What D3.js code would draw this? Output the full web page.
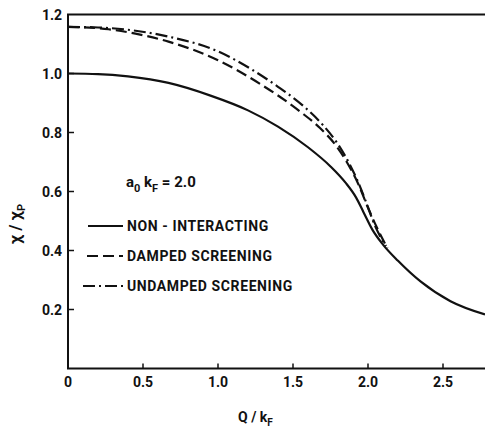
<!DOCTYPE html>
<html>
<head>
<meta charset="utf-8">
<script src="https://cdn.jsdelivr.net/npm/d3@7"></script>
<style>
  body { margin: 0; background: #fff; }
  text { font-family: Roboto, "DejaVu Sans", sans-serif; font-weight: 700; fill: #111; }
</style>
</head>
<body>
<svg width="485" height="427"></svg>
<script>
var svg = d3.select('svg');

// data (Q/kF, chi/chiP)
var nonQ = [0, 0.2, 0.4, 0.67, 0.95, 1.2, 1.4, 1.6, 1.75, 1.85, 1.92, 1.97, 2.03, 2.1, 2.2, 2.35, 2.55, 2.78];
var nonV = [1.0, 0.998, 0.99, 0.968, 0.925, 0.875, 0.82, 0.75, 0.685, 0.63, 0.58, 0.53, 0.47, 0.42, 0.365, 0.295, 0.228, 0.183];

var dampQ = [0, 0.27, 0.45, 0.67, 1.0, 1.28, 1.55, 1.68, 1.78, 1.87, 1.94, 2.0, 2.06, 2.13];
var dampV = [1.158, 1.15, 1.135, 1.108, 1.045, 0.965, 0.87, 0.815, 0.76, 0.69, 0.62, 0.545, 0.477, 0.408];

var undQ = [0, 0.2, 0.45, 0.67, 1.0, 1.23, 1.4, 1.58, 1.7, 1.8, 1.88, 1.94, 1.99, 2.05, 2.12];
var undV = [1.158, 1.156, 1.145, 1.125, 1.075, 1.012, 0.955, 0.885, 0.825, 0.76, 0.69, 0.625, 0.56, 0.48, 0.415];

var xTicks = [0.5, 1.0, 1.5, 2.0, 2.5];
var xLabels = ['0', '0.5', '1.0', '1.5', '2.0', '2.5'];
var yTicks = [0.2, 0.4, 0.6, 0.8, 1.0];
var yLabels = ['0.2', '0.4', '0.6', '0.8', '1.0', '1.2'];

var legendNames = ['NON - INTERACTING', 'DAMPED SCREENING', 'UNDAMPED SCREENING'];
var legendDash = [null, '11,5', '12,4,2,4'];

var x = d3.scaleLinear().domain([0, 2.78]).range([68, 485]);
var y = d3.scaleLinear().domain([0, 1.2]).range([368.5, 14.5]);

// frame
svg.append('path')
  .attr('d', 'M485,' + y(1.2) + 'H' + x(0) + 'V' + y(0) + 'H485')
  .attr('fill', 'none').attr('stroke', '#111').attr('stroke-width', 2);

// ticks, pointing inward
svg.selectAll('line.xt').data(xTicks).enter().append('line')
  .attr('x1', x).attr('x2', x)
  .attr('y1', y(0)).attr('y2', y(0) - 5)
  .attr('stroke', '#111').attr('stroke-width', 1.5);
svg.selectAll('line.yt').data(yTicks).enter().append('line')
  .attr('x1', x(0)).attr('x2', x(0) + 6)
  .attr('y1', y).attr('y2', y)
  .attr('stroke', '#111').attr('stroke-width', 1.5);

svg.selectAll('text.xl').data(xLabels).enter().append('text')
  .attr('x', function(d) { return x(+d) })
  .attr('y', 387)
  .attr('text-anchor', 'middle')
  .attr('font-size', 14)
  .text(function(d) { return d });
svg.selectAll('text.yl').data(yLabels).enter().append('text')
  .attr('x', 62)
  .attr('y', function(d) { return y(+d) + 5 })
  .attr('text-anchor', 'end')
  .attr('font-size', 14)
  .text(function(d) { return d });

// axis titles
var xt = svg.append('text').attr('x', 238).attr('y', 422).attr('font-size', 14).attr('font-weight', 500);
xt.append('tspan').text('Q / k');
xt.append('tspan').attr('dy', 4).attr('font-size', 10).text('F');

var yt = svg.append('text').attr('transform', 'translate(21,244) rotate(-90)').attr('font-size', 17);
yt.append('tspan').text('χ / χ');
yt.append('tspan').attr('dy', 4).attr('font-size', 11).text('P');

// curves
var line = d3.line().x(function(d) { return x(d[0]) }).y(function(d) { return y(d[1]) })
  .curve(d3.curveMonotoneX);
var series = [d3.zip(nonQ, nonV), d3.zip(dampQ, dampV), d3.zip(undQ, undV)];
svg.selectAll('path.curve').data(series).enter().append('path')
  .attr('d', line)
  .attr('fill', 'none')
  .attr('stroke', '#111')
  .attr('stroke-width', 2.2)
  .attr('stroke-dasharray', function(d, i) { return legendDash[i] });

// legend
var lt = svg.append('text').attr('x', 126).attr('y', 187).attr('font-size', 15).attr('font-weight', 500);
lt.append('tspan').text('a');
lt.append('tspan').attr('dy', 5).attr('font-size', 11).text('0');
lt.append('tspan').attr('dy', -5).text('  k');
lt.append('tspan').attr('dy', 5).attr('font-size', 11).text('F');
lt.append('tspan').attr('dy', -5).text(' = 2.0');

var legendY = [226, 256, 286];
var legendX0 = [88, 87, 83];
legendNames.forEach(function(n, i) {
  svg.append('line')
    .attr('x1', legendX0[i]).attr('x2', 123)
    .attr('y1', legendY[i]).attr('y2', legendY[i])
    .attr('stroke', '#111').attr('stroke-width', 2)
    .attr('stroke-dasharray', legendDash[i]);
  svg.append('text')
    .attr('x', 127).attr('y', legendY[i] + 5)
    .attr('font-size', 14)
    .attr('font-weight', 500)
    .attr('letter-spacing', 0.6)
    .text(n);
});
</script>
</body>
</html>
